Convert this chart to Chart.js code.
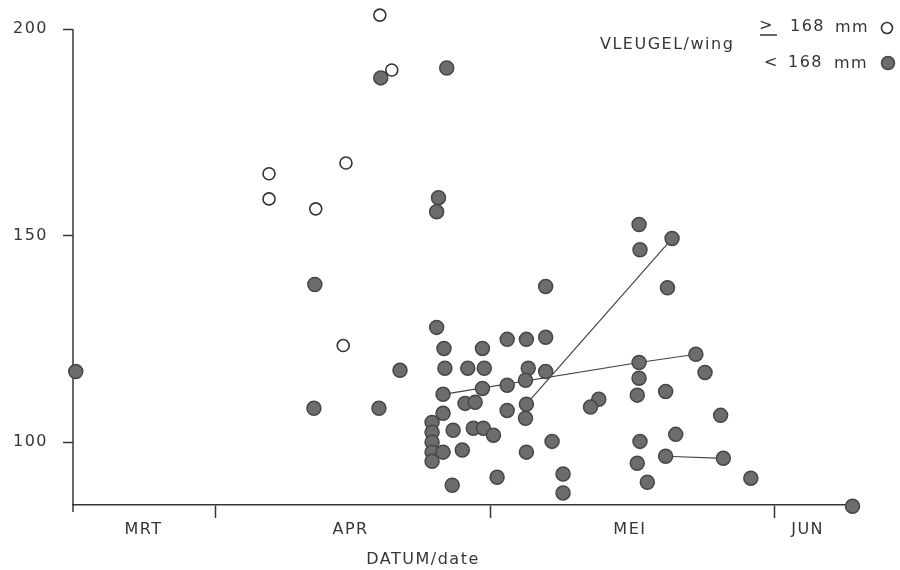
<!DOCTYPE html>
<html>
<head>
<meta charset="utf-8">
<title>VLEUGEL/wing</title>
<script src="https://cdn.jsdelivr.net/npm/chart.js@4/dist/chart.umd.min.js"></script>
<style>
  html, body { margin: 0; padding: 0; background: #ffffff; }
  #wrap { position: relative; width: 900px; height: 570px; }
</style>
</head>
<body>
<div id="wrap"><canvas id="chart" width="900" height="570"></canvas></div>
<script>
// Day numbers count from 1 March (1 April = 31, 1 May = 61, 1 June = 92)

// Wing >= 168 mm (open circles)
const largeWingDays   = [48.9, 50.2, 36.8, 36.8, 45.2, 41.9, 44.9];
const largeWingValues = [203.4, 190.1, 165.0, 158.9, 167.6, 156.5, 123.4];

// Wing < 168 mm (filled circles)
const smallWingDays = [
  15.7, 49.0, 56.2, 55.3, 55.1, 41.8, 41.7, 48.8, 51.1, 55.1,
  55.9, 60.1, 62.8, 64.9, 67.0, 67.0, 56.0, 58.5, 60.3, 65.1,
  67.0, 55.8, 60.1, 62.8, 64.8, 58.2, 59.3, 62.8, 64.9, 64.8,
  55.8, 54.6, 54.6, 54.6, 54.6, 54.6, 55.8, 56.9, 59.1, 60.2,
  61.3, 57.9, 64.9, 67.7, 56.8, 61.7, 68.9, 68.9, 72.8, 71.9,
  77.2, 77.3, 80.8, 80.3, 77.2, 83.4, 84.4, 77.2, 80.1, 77.0,
  86.1, 81.2, 77.3, 80.1, 86.4, 77.0, 78.1, 89.4, 100.5
];
const smallWingValues = [
  117.1, 188.2, 190.6, 159.2, 155.8, 138.2, 108.2, 108.2, 117.4, 127.8,
  122.7, 122.7, 124.9, 124.9, 125.4, 137.7, 117.9, 117.9, 117.9, 117.9,
  117.1, 111.6, 113.0, 113.8, 115.0, 109.4, 109.7, 107.7, 109.2, 105.8,
  107.0, 104.8, 102.4, 100.0, 97.6, 95.4, 97.6, 102.9, 103.4, 103.4,
  101.7, 98.1, 97.6, 100.2, 89.6, 91.5, 92.3, 87.7, 110.4, 108.5,
  152.7, 146.6, 149.3, 137.4, 119.3, 121.3, 116.9, 115.5, 112.3, 111.4,
  106.5, 101.9, 100.2, 96.6, 96.1, 94.9, 90.3, 91.3, 84.5
];

// Recaptured birds, joined by lines
const trackADays = [55.8, 77.2, 83.4];
const trackAValues = [111.6, 119.3, 121.3];
const trackBDays = [64.9, 80.8];
const trackBValues = [109.2, 149.3];
const trackCDays = [80.1, 86.4];
const trackCValues = [96.6, 96.1];

// Axis ticks
const monthStartDays = [31, 61, 92];
const monthLabels = ['MRT', 'APR', 'MEI', 'JUN'];
const monthLabelDays = [23.1, 45.7, 76.2, 95.6];
const valueTicks = [100, 150, 200];

const X_MIN = 15.4, X_MAX = 101.1;
const Y_MIN = 84.8, Y_MAX = 205;
const Y_AXIS_TOP = 200;

const INK = '#363636';
const FONT = '"DejaVu Sans", "Liberation Sans", Arial, sans-serif';

function toPoints(xs, ys) {
  return xs.map((x, i) => ({ x: x, y: ys[i] }));
}

const xTickValues = monthStartDays.concat(monthLabelDays).sort((a, b) => a - b);

function noEdgePadding(scale) {
  scale.paddingTop = 0;
  scale.paddingBottom = 0;
  scale.paddingLeft = 0;
  scale.paddingRight = 0;
}

const spacingPlugin = {
  id: 'spacing',
  beforeDraw(chart) {
    chart.ctx.letterSpacing = '1.5px';
  }
};

// vertical axis line: runs from the 200 tick down a little past the x axis
const yAxisLinePlugin = {
  id: 'yAxisLine',
  beforeDatasetsDraw(chart) {
    const y = chart.scales.y;
    const area = chart.chartArea;
    const ctx = chart.ctx;
    ctx.save();
    ctx.strokeStyle = INK;
    ctx.lineWidth = 1.5;
    ctx.beginPath();
    ctx.moveTo(area.left, y.getPixelForValue(Y_AXIS_TOP));
    ctx.lineTo(area.left, area.bottom + 7);
    ctx.stroke();
    ctx.restore();
  }
};

const annotationsPlugin = {
  id: 'annotations',
  afterDraw(chart) {
    const ctx = chart.ctx;
    ctx.save();
    ctx.letterSpacing = '1.5px';
    ctx.fillStyle = INK;
    ctx.strokeStyle = INK;
    ctx.font = '16px ' + FONT;
    ctx.textBaseline = 'middle';
    ctx.textAlign = 'left';

    // legend block
    ctx.fillText('VLEUGEL/wing', 600, 45);
    ctx.fillText('>', 759, 26);
    ctx.lineWidth = 1.5;
    ctx.beginPath();
    ctx.moveTo(760, 35);
    ctx.lineTo(777, 35);
    ctx.stroke();
    ctx.fillText('168', 790, 27);
    ctx.fillText('mm', 835, 28);
    ctx.fillText('<', 764, 63);
    ctx.fillText('168', 788, 63);
    ctx.fillText('mm', 834, 64);

    ctx.beginPath();
    ctx.arc(887, 28, 5.5, 0, Math.PI * 2);
    ctx.fillStyle = '#ffffff';
    ctx.fill();
    ctx.lineWidth = 1.6;
    ctx.strokeStyle = '#333333';
    ctx.stroke();

    ctx.beginPath();
    ctx.arc(888, 63, 6.5, 0, Math.PI * 2);
    ctx.fillStyle = '#6c6c6c';
    ctx.fill();
    ctx.lineWidth = 1.5;
    ctx.strokeStyle = '#474747';
    ctx.stroke();

    // x axis title
    ctx.fillStyle = INK;
    ctx.textAlign = 'center';
    ctx.fillText('DATUM/date', 423, 560);
    ctx.restore();
  }
};

new Chart(document.getElementById('chart'), {
  type: 'scatter',
  data: {
    datasets: [
      {
        label: '< 168 mm',
        data: toPoints(smallWingDays, smallWingValues),
        pointRadius: 7,
        pointBackgroundColor: '#6c6c6c',
        pointBorderColor: '#474747',
        pointBorderWidth: 1.5,
        clip: false,
        order: 1
      },
      {
        label: '>= 168 mm',
        data: toPoints(largeWingDays, largeWingValues),
        pointRadius: 6,
        pointBackgroundColor: '#ffffff',
        pointBorderColor: '#333333',
        pointBorderWidth: 1.6,
        clip: false,
        order: 0
      },
      {
        label: 'A',
        data: toPoints(trackADays, trackAValues),
        showLine: true, pointRadius: 0,
        borderColor: '#444444', borderWidth: 1.2,
        clip: false, order: 3
      },
      {
        label: 'B',
        data: toPoints(trackBDays, trackBValues),
        showLine: true, pointRadius: 0,
        borderColor: '#444444', borderWidth: 1.2,
        clip: false, order: 3
      },
      {
        label: 'C',
        data: toPoints(trackCDays, trackCValues),
        showLine: true, pointRadius: 0,
        borderColor: '#444444', borderWidth: 1.2,
        clip: false, order: 3
      }
    ]
  },
  options: {
    responsive: false,
    animation: false,
    events: [],
    layout: { padding: { left: 0, right: 42, top: 7.3, bottom: 0 } },
    plugins: {
      legend: { display: false },
      tooltip: { enabled: false }
    },
    scales: {
      x: {
        type: 'linear',
        min: X_MIN,
        max: X_MAX,
        afterBuildTicks(scale) {
          scale.ticks = xTickValues.map(v => ({ value: v }));
        },
        afterFit(scale) { scale.height = 65; noEdgePadding(scale); },
        border: { color: INK, width: 1.5 },
        grid: {
          drawOnChartArea: false,
          tickLength: 13,
          tickWidth: 1.5,
          tickColor: (ctx) => (ctx.tick && monthStartDays.includes(ctx.tick.value)) ? INK : 'rgba(0,0,0,0)'
        },
        ticks: {
          autoSkip: false,
          maxRotation: 0,
          padding: 2,
          color: INK,
          font: { family: FONT, size: 16 },
          callback: (value) => {
            const i = monthLabelDays.indexOf(value);
            return i >= 0 ? monthLabels[i] : '';
          }
        }
      },
      y: {
        type: 'linear',
        min: Y_MIN,
        max: Y_MAX,
        afterBuildTicks(scale) {
          scale.ticks = valueTicks.map(v => ({ value: v }));
        },
        afterFit(scale) { scale.width = 73; noEdgePadding(scale); },
        border: { display: false },
        grid: {
          drawOnChartArea: false,
          tickLength: 10,
          tickWidth: 1.5,
          tickColor: INK
        },
        ticks: {
          padding: 15,
          color: INK,
          font: { family: FONT, size: 16 },
          callback: (value) => String(value)
        }
      }
    }
  },
  plugins: [spacingPlugin, yAxisLinePlugin, annotationsPlugin]
});
</script>
</body>
</html>
